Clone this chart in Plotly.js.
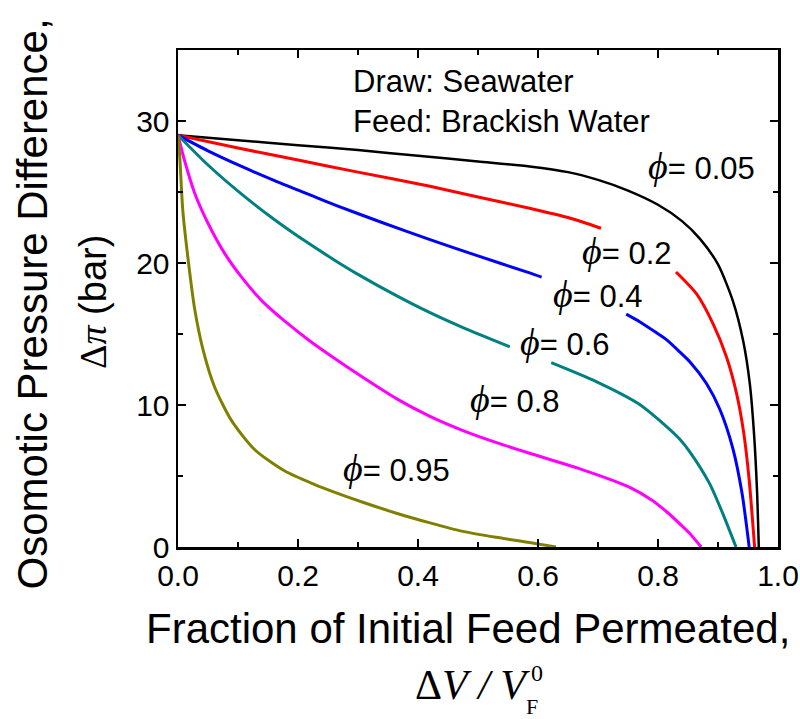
<!DOCTYPE html>
<html>
<head>
<meta charset="utf-8">
<script src="https://cdn.plot.ly/plotly-3.0.1.min.js"></script>
<style>
  html, body { margin: 0; padding: 0; background: #ffffff; }
  #chart { width: 800px; height: 719px; }
</style>
</head>
<body>
<div id="chart"></div>
<script>
// ---- data ----
const phiNames = ['0.05', '0.2', '0.4', '0.6', '0.8', '0.95'];
const colors = ['#000000', '#ff0000', '#0000ff', '#008080', '#ff00ff', '#808000'];

const x005 = [0, 0.1, 0.2, 0.3, 0.4, 0.5, 0.586, 0.65, 0.7, 0.75, 0.8, 0.84, 0.87, 0.9, 0.925, 0.942, 0.953, 0.96, 0.965, 0.968];
const y005 = [29.0, 28.65, 28.3, 27.95, 27.55, 27.15, 26.8, 26.4, 25.85, 25.1, 24.1, 22.95, 21.7, 19.9, 17.3, 14.5, 11.5, 8.0, 4.0, 0];

const x02 = [0, 0.1, 0.2, 0.3, 0.42, 0.5, 0.586, 0.65, 0.705, null, 0.83, 0.864, 0.892, 0.914, 0.931, 0.943, 0.952, 0.961];
const y02 = [29.0, 28.1, 27.25, 26.4, 25.4, 24.65, 23.85, 23.2, 22.45, null, 19.37, 17.84, 15.7, 13.4, 10.8, 8.0, 4.7, 0];

const x04 = [0, 0.05, 0.106, 0.161, 0.217, 0.261, 0.34, 0.42, 0.5, 0.586, 0.606, null, 0.747, 0.77, 0.797, 0.814, 0.836, 0.853, 0.881, 0.903, 0.925, 0.94, 0.952];
const y04 = [29.0, 27.9, 26.8, 25.8, 24.85, 24.1, 22.85, 21.65, 20.5, 19.3, 19.0, null, 16.4, 15.85, 15.1, 14.6, 13.75, 13.05, 11.5, 9.7, 6.9, 3.8, 0];

const x06 = [0, 0.05, 0.106, 0.161, 0.217, 0.261, 0.3, 0.364, 0.42, 0.475, 0.553, null, 0.622, 0.697, 0.767, 0.811, 0.836, 0.853, 0.886, 0.908, 0.93];
const y06 = [29.0, 26.9, 24.85, 23.05, 21.4, 20.2, 19.2, 17.7, 16.5, 15.45, 14.1, null, 12.98, 11.65, 10.1, 8.6, 7.6, 6.7, 4.46, 2.35, 0];

const x08 = [0, 0.011, 0.028, 0.05, 0.078, 0.106, 0.139, 0.178, 0.217, 0.257, 0.308, 0.364, 0.42, 0.475, 0.531, 0.586, 0.67, 0.753, 0.79, 0.814, 0.836, 0.853, 0.872];
const y08 = [29.0, 27.2, 24.9, 22.8, 20.66, 19.0, 17.37, 15.9, 14.6, 13.4, 11.95, 10.45, 9.2, 8.2, 7.35, 6.6, 5.5, 4.2, 3.3, 2.5, 1.65, 0.95, 0];

const x095 = [0, 0.003, 0.008, 0.017, 0.028, 0.042, 0.061, 0.089, 0.128, 0.178, 0.228, 0.257, 0.308, 0.364, 0.42, 0.475, 0.53, 0.586, 0.63];
const y095 = [29.0, 27.4, 23.7, 20.2, 16.7, 13.85, 11.27, 8.92, 6.85, 5.35, 4.4, 3.92, 3.15, 2.38, 1.7, 1.1, 0.68, 0.32, 0];

const seriesX = [x005, x02, x04, x06, x08, x095];
const seriesY = [y005, y02, y04, y06, y08, y095];

// label anchor positions (data units) for the phi labels
const labelX = [0.780, 0.670, 0.622, 0.567, 0.483, 0.272];
const labelY = [26.85, 20.87, 17.8, 14.45, 10.4, 5.54];

const xTickVals = [0, 0.2, 0.4, 0.6, 0.8, 1.0];
const xTickText = ['0.0', '0.2', '0.4', '0.6', '0.8', '1.0'];
const yTickVals = [0, 10, 20, 30];
const yTickText = ['0', '10', '20', '30'];

const infoLines = ['Draw: Seawater', 'Feed: Brackish Water'];

// ---- build ----
const SANS = 'Arial, "Liberation Sans", sans-serif';
const SERIF = '"Times New Roman", "Liberation Serif", serif';
const SERIF_CSS = "'Liberation Serif', 'Times New Roman', serif";

const traces = seriesX.map((xs, i) => ({
  x: xs,
  y: seriesY[i],
  type: 'scatter',
  mode: 'lines',
  name: 'ϕ = ' + phiNames[i],
  connectgaps: false,
  line: { color: colors[i], width: i === 0 ? 2.5 : 3, shape: 'spline', smoothing: 0.7 },
  hoverinfo: 'skip'
}));

const annotations = [];
phiNames.forEach((p, i) => {
  annotations.push({
    x: labelX[i], y: labelY[i], xref: 'x', yref: 'y',
    xanchor: 'left', yanchor: 'middle', showarrow: false,
    text: '<span style="font-family:' + SERIF_CSS + ';font-size:38px"><i>ϕ</i></span>= ' + p,
    font: { family: SANS, size: 31, color: '#000' }
  });
});

const infoY = [32.75, 29.95];
infoLines.forEach((t, i) => {
  annotations.push({
    x: 0.288, y: infoY[i], xref: 'x', yref: 'y',
    xanchor: 'left', yanchor: 'middle', showarrow: false,
    text: t, font: { family: SANS, size: 31, color: '#000' }
  });
});

// x-axis title (two lines)
annotations.push({
  x: -0.0572, y: -0.1636, xref: 'paper', yref: 'paper',
  xanchor: 'left', yanchor: 'middle', showarrow: false,
  text: 'Fraction of Initial Feed Permeated,',
  font: { family: SANS, size: 42, color: '#000' }
});
annotations.push({
  x: (413 - 178.3) / 599.7, y: -0.2775, xref: 'paper', yref: 'paper',
  xanchor: 'left', yanchor: 'middle', showarrow: false,
  text: 'Δ<i>V</i> <i>/ V</i>',
  font: { family: SERIF, size: 42, color: '#000' }
});
annotations.push({
  x: (532 - 178.3) / 599.7, y: (546.7 - 706) / 497, xref: 'paper', yref: 'paper',
  xanchor: 'center', yanchor: 'middle', showarrow: false,
  text: 'F', font: { family: SERIF, size: 22, color: '#000' }
});
annotations.push({
  x: (537 - 178.3) / 599.7, y: (546.7 - 672.5) / 497, xref: 'paper', yref: 'paper',
  xanchor: 'center', yanchor: 'middle', showarrow: false,
  text: '0', font: { family: SERIF, size: 24, color: '#000' }
});

// y-axis title (two lines)
annotations.push({
  x: -0.2433, y: 0.488, xref: 'paper', yref: 'paper',
  xanchor: 'center', yanchor: 'middle', showarrow: false, textangle: -90,
  text: 'Osomotic Pressure Difference,',
  font: { family: SANS, size: 42, color: '#000' }
});
annotations.push({
  x: -0.1414, y: 0.4934, xref: 'paper', yref: 'paper',
  xanchor: 'center', yanchor: 'middle', showarrow: false, textangle: -90,
  text: '<span style="font-family:' + SERIF_CSS + '">Δ<i>π</i></span> (bar)',
  font: { family: SANS, size: 38, color: '#000' }
});

const axisCommon = {
  showgrid: false, zeroline: false,
  showline: true, linecolor: '#000', linewidth: 2.5, mirror: 'allticks',
  ticks: 'inside', ticklen: 8, tickwidth: 2, tickcolor: '#000',
  tickfont: { family: SANS, size: 30, color: '#000' },
  fixedrange: true
};

const layout = {
  width: 800, height: 719,
  margin: { l: 178, r: 22, t: 50, b: 172 },
  paper_bgcolor: '#ffffff', plot_bgcolor: '#ffffff',
  showlegend: false,
  xaxis: Object.assign({}, axisCommon, {
    range: [0, 1.0], tickmode: 'array', tickvals: xTickVals, ticktext: xTickText,
    minor: { dtick: 0.1, ticks: 'inside', ticklen: 5, tickwidth: 2, tickcolor: '#000', showgrid: false }
  }),
  yaxis: Object.assign({}, axisCommon, {
    range: [0, 35], tickmode: 'array', tickvals: yTickVals, ticktext: yTickText,
    minor: { dtick: 5, ticks: 'inside', ticklen: 5, tickwidth: 2, tickcolor: '#000', showgrid: false }
  }),
  annotations: annotations
};

Plotly.newPlot('chart', traces, layout, { displayModeBar: false, staticPlot: true });
</script>
</body>
</html>
